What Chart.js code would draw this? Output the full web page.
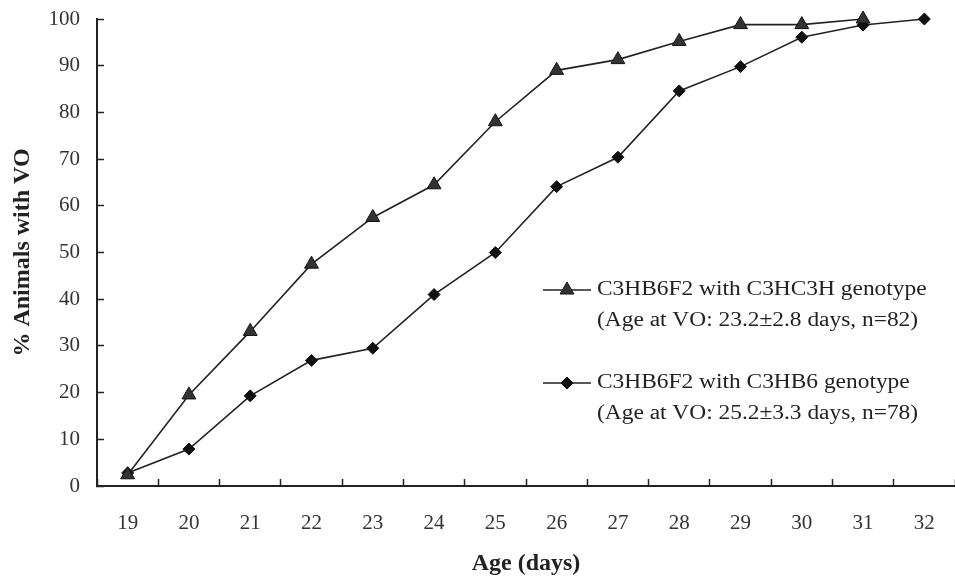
<!DOCTYPE html>
<html>
<head>
<meta charset="utf-8">
<script src="https://cdn.jsdelivr.net/npm/chart.js@4"></script>
<style>
  html, body { margin: 0; padding: 0; background: #fff; }
  #wrap { width: 955px; height: 579px; }
</style>
</head>
<body>
<div id="wrap"><canvas id="graph_zone"></canvas></div>
<script>
// ages (days)
const ages = ['19', '20', '21', '22', '23', '24', '25', '26', '27', '28', '29', '30', '31', '32'];
// % animals with VO, C3HC3H genotype (triangles)
const c3hc3h = [2.4, 19.5, 33.1, 47.5, 57.5, 64.5, 78, 89, 91.3, 95.2, 98.8, 98.8, 100, null];
// % animals with VO, C3HB6 genotype (diamonds)
const c3hb6 = [2.8, 7.9, 19.3, 26.9, 29.5, 41, 50, 64.1, 70.4, 84.6, 89.8, 96.1, 98.7, 100];
const yTicks = [0, 10, 20, 30, 40, 50, 60, 70, 80, 90, 100];
const legendNames = ['C3HB6F2 with C3HC3H genotype', 'C3HB6F2 with C3HB6 genotype'];
const legendNotes = ['(Age at VO: 23.2\u00b12.8 days, n=82)', '(Age at VO: 25.2\u00b13.3 days, n=78)'];

const serif = "'Liberation Serif', 'Times New Roman', serif";

// legend sits inside the plot, two text lines per entry
const innerLegend = {
    id: 'innerLegend',
    afterDatasetsDraw(chart) {
        const ctx = chart.ctx;
        const rows = [290, 383];
        chart.data.datasets.forEach((ds, i) => {
            const y = rows[i];
            ctx.save();
            ctx.strokeStyle = ds.borderColor;
            ctx.lineWidth = ds.borderWidth;
            ctx.beginPath();
            ctx.moveTo(543, y);
            ctx.lineTo(591, y);
            ctx.stroke();
            ctx.fillStyle = ds.pointBackgroundColor;
            ctx.strokeStyle = ds.pointBorderColor;
            ctx.lineWidth = 1;
            Chart.helpers.drawPoint(ctx, {
                pointStyle: ds.pointStyle,
                radius: ds.pointRadius,
                borderWidth: 1
            }, 567, y);
            // the original text is a little wider than Times
            ctx.translate(597, y);
            ctx.scale(1.17, 1);
            ctx.fillStyle = '#222';
            ctx.font = '20px ' + serif;
            ctx.textBaseline = 'middle';
            ctx.textAlign = 'left';
            ctx.fillText(legendNames[i], 0, 0);
            ctx.fillText(legendNotes[i], 0, 31);
            ctx.restore();
        });
    }
};

let myChart = new Chart(document.querySelector('#graph_zone').getContext('2d'), {
    type: 'line',
    data: {
        labels: ages,
        datasets: [{
            label: legendNames[0],
            data: c3hc3h,
            borderColor: '#222',
            borderWidth: 1.6,
            pointStyle: 'triangle',
            pointRadius: 8,
            pointBorderWidth: 1,
            pointBorderColor: '#111',
            pointBackgroundColor: '#333',
            clip: false
        }, {
            label: legendNames[1],
            data: c3hb6,
            borderColor: '#222',
            borderWidth: 1.6,
            pointStyle: 'rectRot',
            pointRadius: 6,
            pointBorderWidth: 1,
            pointBorderColor: '#111',
            pointBackgroundColor: '#111',
            clip: false
        }]
    },
    options: {
        responsive: true,
        maintainAspectRatio: false,
        animation: false,
        layout: { autoPadding: false, padding: { top: 19, right: -4, left: 0, bottom: 0 } },
        plugins: {
            legend: { display: false },
            tooltip: { enabled: false }
        },
        scales: {
            x: {
                type: 'category',
                offset: true,
                afterFit(scale) {
                    scale.height = 93;
                    scale.paddingLeft = 0;
                    scale.paddingRight = 0;
                },
                grid: {
                    offset: true,
                    drawOnChartArea: false,
                    tickLength: -7,
                    tickWidth: 1.5,
                    tickColor: '#222'
                },
                border: { color: '#222', width: 2 },
                ticks: {
                    padding: 32,
                    color: '#333',
                    font: { family: serif, size: 21 }
                },
                title: {
                    display: true,
                    text: 'Age (days)',
                    color: '#222',
                    padding: { top: 0, bottom: 1 },
                    font: { family: serif, size: 24, weight: 'bold' }
                }
            },
            y: {
                min: 0,
                max: 100,
                afterFit(scale) {
                    scale.width = 97;
                    scale.paddingTop = 0;
                    scale.paddingBottom = 0;
                },
                afterBuildTicks(scale) { scale.ticks = yTicks.map(v => ({ value: v })); },
                grid: {
                    drawOnChartArea: false,
                    tickLength: -7,
                    tickWidth: 1.5,
                    tickColor: '#222'
                },
                border: { color: '#222', width: 2 },
                ticks: {
                    padding: 24,
                    color: '#333',
                    font: { family: serif, size: 21 }
                },
                title: {
                    display: true,
                    text: '% Animals with VO',
                    color: '#222',
                    padding: { top: 8, bottom: 0 },
                    font: { family: serif, size: 24, weight: 'bold' }
                }
            }
        }
    },
    plugins: [innerLegend]
});
</script>
</body>
</html>
